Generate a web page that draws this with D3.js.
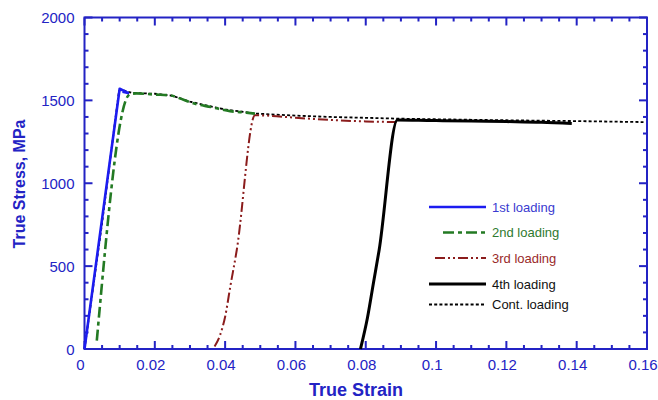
<!DOCTYPE html>
<html>
<head>
<meta charset="utf-8">
<script src="https://cdn.jsdelivr.net/npm/d3@7"></script>
<style>
  body { margin: 0; background: #fff; }
  svg { font-family: "Liberation Sans", Arial, sans-serif; }
</style>
</head>
<body>
<svg id="chart" width="658" height="400"></svg>
<script>
// 1st loading
const strain1 = [0, 0.0100, 0.0124, 0.0108];
const stress1 = [0, 1570, 1545, 1552];
// 2nd loading
const strain2 = [0.0035, 0.0125, 0.0135, 0.0148, 0.0200, 0.0243, 0.0280, 0.0310, 0.0360, 0.0414, 0.0460, 0.0485];
const stress2 = [50, 1530, 1540, 1542, 1535, 1530, 1505, 1482, 1460, 1435, 1426, 1420];
// 3rd loading
const strain3 = [0.0370, 0.0385, 0.0400, 0.0415, 0.0433, 0.0485, 0.0520, 0.0600, 0.0700, 0.0800, 0.0888];
const stress3 = [15, 80, 195, 380, 596, 1410, 1408, 1395, 1382, 1373, 1369];
// 4th loading
const strain4 = [0.0785, 0.0805, 0.0822, 0.0838, 0.0890, 0.0950, 0.1000, 0.1100, 0.1200, 0.1300, 0.1386];
const stress4 = [0, 190, 400, 596, 1382, 1380, 1378, 1375, 1372, 1368, 1360];
// continuous loading
const strainC = [0, 0.0050, 0.0098, 0.0103, 0.0135, 0.0200, 0.0250, 0.0300, 0.0350, 0.0400, 0.0490, 0.0600, 0.0700, 0.0888, 0.1000, 0.1200, 0.1400, 0.1590];
const stressC = [0, 760, 1555, 1565, 1545, 1540, 1528, 1492, 1468, 1445, 1420, 1408, 1400, 1390, 1386, 1380, 1375, 1369];

const xTicks = [0, 0.02, 0.04, 0.06, 0.08, 0.1, 0.12, 0.14, 0.16];
const yTicks = [0, 500, 1000, 1500, 2000];

const legendNames = ['1st loading', '2nd loading', '3rd loading', '4th loading', 'Cont. loading'];

const axisColor = '#2323c4';
const series = [
  { x: strain1, y: stress1, color: '#1c1cf0', width: 2.6, dash: null, textColor: '#3a3ad0', lx0: 429, curve: d3.curveLinear },
  { x: strain2, y: stress2, color: '#237a23', width: 2.6, dash: '11,4,4,4', textColor: '#2f7a2f', lx0: 443, curve: d3.curveMonotoneX },
  { x: strain3, y: stress3, color: '#8b1c1c', width: 2, dash: '10,3,2,3,2,3', textColor: '#9a2a2a', lx0: 435, curve: d3.curveMonotoneX },
  { x: strain4, y: stress4, color: '#000', width: 3, dash: null, textColor: '#111', lx0: 429, curve: d3.curveMonotoneX },
  { x: strainC, y: stressC, color: '#000', width: 1.8, dash: '3,2.2', textColor: '#111', lx0: 429, curve: d3.curveLinear }
];

const svg = d3.select('#chart');
const mLeft = 84.5, mRight = 647, mTop = 17.5, mBottom = 349;

const xs = d3.scaleLinear().domain([0, 0.16]).range([mLeft, mRight]);
const ys = d3.scaleLinear().domain([0, 2000]).range([mBottom, mTop]);

const minorX = d3.range(1, 32).filter(k => k % 4 !== 0).map(k => k * 0.005);
const minorY = d3.range(1, 20).filter(k => k % 5 !== 0).map(k => k * 100);

// tick marks, pointing into the plot on all four sides
const tickG = svg.append('g');
function addXTicks(vals, len) {
  vals.forEach(v => {
    tickG.append('rect').attr('x', xs(v) - 1).attr('y', mBottom - len).attr('width', 2).attr('height', len).attr('fill', axisColor);
    tickG.append('rect').attr('x', xs(v) - 1).attr('y', mTop).attr('width', 2).attr('height', len).attr('fill', axisColor);
  });
}
function addYTicks(vals, len) {
  vals.forEach(v => {
    tickG.append('rect').attr('x', mLeft).attr('y', ys(v) - 1).attr('width', len).attr('height', 2).attr('fill', axisColor);
    tickG.append('rect').attr('x', mRight - len).attr('y', ys(v) - 1).attr('width', len).attr('height', 2).attr('fill', axisColor);
  });
}
addXTicks(xTicks, 8);
addXTicks(minorX, 4);
addYTicks(yTicks, 8);
addYTicks(minorY, 4);

svg.append('rect')
  .attr('x', mLeft).attr('y', mTop)
  .attr('width', mRight - mLeft).attr('height', mBottom - mTop)
  .attr('fill', 'none').attr('stroke', axisColor).attr('stroke-width', 2);

// tick labels
svg.append('g').selectAll('text').data(xTicks).join('text')
  .attr('x', d => xs(d) - 4).attr('y', 370)
  .attr('text-anchor', 'middle')
  .attr('font-size', 15).attr('fill', axisColor)
  .text(d => d3.format('~g')(d));

svg.append('g').selectAll('text').data(yTicks).join('text')
  .attr('x', mLeft - 10).attr('y', d => ys(d) + 5.5)
  .attr('text-anchor', 'end')
  .attr('font-size', 15).attr('fill', axisColor)
  .text(d => d);

// axis titles
svg.append('text')
  .attr('x', 356).attr('y', 396)
  .attr('text-anchor', 'middle')
  .attr('font-size', 18).attr('font-weight', 'bold').attr('fill', axisColor)
  .text('True Strain');

svg.append('text')
  .attr('transform', 'translate(25,184) rotate(-90)')
  .attr('text-anchor', 'middle')
  .attr('font-size', 16).attr('font-weight', 'bold').attr('fill', axisColor)
  .text('True Stress, MPa');

// curves
const drawOrder = [4, 2, 3, 1, 0];
drawOrder.forEach(i => {
  const s = series[i];
  const line = d3.line().x(d => xs(d[0])).y(d => ys(d[1])).curve(s.curve);
  svg.append('path')
    .datum(d3.zip(s.x, s.y))
    .attr('d', line)
    .attr('fill', 'none')
    .attr('stroke', s.color)
    .attr('stroke-width', s.width)
    .attr('stroke-dasharray', s.dash)
    .attr('stroke-linejoin', 'round');
});

// legend
const legendY = [207, 232.5, 258, 284, 304.5];
const lg = svg.append('g');
series.forEach((s, i) => {
  lg.append('line')
    .attr('x1', s.lx0).attr('x2', 486)
    .attr('y1', legendY[i]).attr('y2', legendY[i])
    .attr('stroke', s.color)
    .attr('stroke-width', s.width)
    .attr('stroke-dasharray', s.dash);
  lg.append('text')
    .attr('x', 492).attr('y', legendY[i] + 4.5)
    .attr('font-size', 13).attr('fill', s.textColor)
    .text(legendNames[i]);
});
</script>
</body>
</html>
